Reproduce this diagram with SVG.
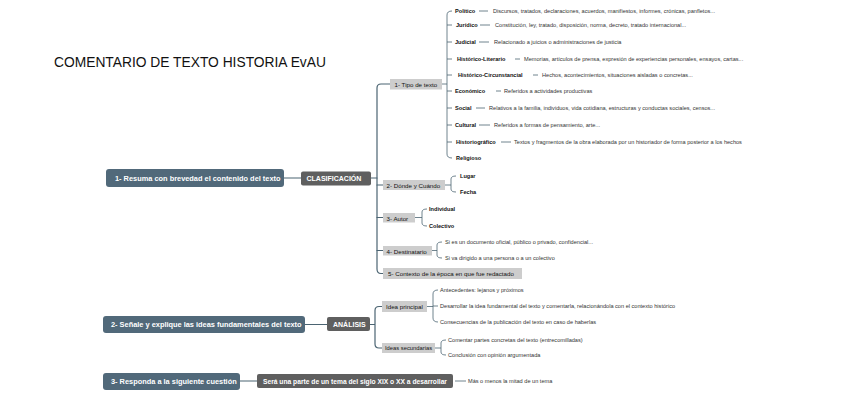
<svg xmlns="http://www.w3.org/2000/svg" width="848" height="402" viewBox="0 0 848 402">
<style>
text{font-family:"Liberation Sans",Arial,sans-serif;dominant-baseline:central}
.title{font-size:13.8px;fill:#111;dominant-baseline:auto}
.root rect{fill:#51697a}
.root text{font-size:7.4px;font-weight:bold;fill:#fff}
.l2 rect{fill:#5f5f5f}
.l2 text{font-size:7px;font-weight:bold;fill:#fff}
.l3 rect{fill:#cdcdcd}
.l3 text{font-size:6.2px;fill:#111}
.lab{font-size:5.6px;font-weight:bold;fill:#111}
.desc{font-size:5.6px;fill:#333}
.c{fill:none;stroke:#4b6472;stroke-width:1.2;stroke-linecap:round}
.t{fill:none;stroke:#4b6472;stroke-width:0.8}
</style>
<rect width="848" height="402" fill="#fff"/>
<text class="title" x="54" y="67">COMENTARIO DE TEXTO HISTORIA EvAU</text>

<g id="connectors">
<path class="c" d="M284,178H301"/>
<path class="c" d="M371,178H377"/>
<path class="c" d="M390,84H381Q377,84 377,88V269Q377,273.5 381,273.5H383"/>
<path class="c" d="M377,185H383M377,217.5H383M377,250.5H383"/>
<path class="t" d="M442,84H447M452,11Q447,11 447,15V154Q447,158 452,158M447,25H452M447,42H452M447,59H452M447,75H452M447,91H452M447,108H452M447,125H452M447,142H452"/>
<path class="t" d="M479,11H488M480,25H490M479,42H489M515,59H520M533,75H538M496,91H501M476,108H485M479,125H490M501,142H511"/>
<path class="t" d="M445,185H451M456,176Q451,176 451,179V189Q451,192 456,192"/>
<path class="t" d="M415,217.5H422M427,209Q422,209 422,212V223Q422,226 427,226"/>
<path class="t" d="M432,250.5H437M442,242Q437,242 437,245V255Q437,258 442,258"/>
<path class="c" d="M305,324.5H327"/>
<path class="c" d="M370,324.5H375M382,306.5H379Q375,306.5 375,310.5V344Q375,348 379,348H382"/>
<path class="t" d="M427,306.5H433M438,290Q433,290 433,294V318Q433,322 438,322M433,306H438"/>
<path class="t" d="M435,348H441M446,340Q441,340 441,343V352Q441,355 446,355"/>
<path class="c" d="M240,381H257"/>
<path class="t" d="M455,381H466"/>
</g>

<g id="root1" class="root"><rect x="106" y="169" width="178" height="18" rx="3"/><text x="115" y="178">1- Resuma con brevedad el contenido del texto</text></g>
<g id="clasificacion" class="l2"><rect x="301" y="171.5" width="70" height="14" rx="2"/><text x="306.5" y="178.5">CLASIFICACIÓN</text></g>

<g id="tipo" class="l3"><rect x="390" y="79" width="52" height="10.5"/><text x="394.5" y="84.3">1- Tipo de texto</text></g>
<g id="politico"><text class="lab" x="455" y="11">Político</text><text class="desc" x="493" y="11">Discursos, tratados, declaraciones, acuerdos, manifiestos, informes, crónicas, panfletos...</text></g>
<g id="juridico"><text class="lab" x="456" y="25">Jurídico</text><text class="desc" x="495" y="25">Constitución, ley, tratado, disposición, norma, decreto, tratado internacional...</text></g>
<g id="judicial"><text class="lab" x="455" y="42">Judicial</text><text class="desc" x="494" y="42">Relacionado a juicios o administraciones de justicia</text></g>
<g id="hliterario"><text class="lab" x="457" y="59">Histórico-Literario</text><text class="desc" x="524" y="59">Memorias, artículos de prensa, expresión de experiencias personales, ensayos, cartas...</text></g>
<g id="hcircunstancial"><text class="lab" x="458" y="75">Histórico-Circunstancial</text><text class="desc" x="542" y="75">Hechos, acontecimientos, situaciones aisladas o concretas...</text></g>
<g id="economico"><text class="lab" x="455" y="91">Económico</text><text class="desc" x="504" y="91">Referidos a actividades productivas</text></g>
<g id="social"><text class="lab" x="455" y="108">Social</text><text class="desc" x="489" y="108">Relativos a la familia, individuos, vida cotidiana, estructuras y conductas sociales, censos...</text></g>
<g id="cultural"><text class="lab" x="455" y="125">Cultural</text><text class="desc" x="494" y="125">Referidos a formas de pensamiento, arte...</text></g>
<g id="historiografico"><text class="lab" x="456" y="142">Historiográfico</text><text class="desc" x="514" y="142">Textos y fragmentos de la obra elaborada por un historiador de forma posterior a los hechos</text></g>
<g id="religioso"><text class="lab" x="456" y="158">Religioso</text></g>

<g id="donde" class="l3"><rect x="383" y="180" width="62" height="10"/><text x="386.5" y="185.3">2- Dónde y Cuándo</text></g>
<g id="lugar"><text class="lab" x="460" y="176">Lugar</text></g>
<g id="fecha"><text class="lab" x="460" y="192">Fecha</text></g>

<g id="autor" class="l3"><rect x="383" y="213" width="32" height="9.5"/><text x="386.5" y="218">3- Autor</text></g>
<g id="individual"><text class="lab" x="429" y="209">Individual</text></g>
<g id="colectivo"><text class="lab" x="429" y="226">Colectivo</text></g>

<g id="destinatario" class="l3"><rect x="383" y="246" width="49" height="9.5"/><text x="386.5" y="251">4- Destinatario</text></g>
<g id="dest1"><text class="desc" x="445" y="242">Si es un documento oficial, público o privado, confidencial...</text></g>
<g id="dest2"><text class="desc" x="445" y="258">Si va dirigido a una persona o a un colectivo</text></g>

<g id="contexto" class="l3"><rect x="383" y="268" width="139" height="11"/><text x="388" y="273.8">5- Contexto de la época en que fue redactado</text></g>

<g id="root2" class="root"><rect x="103" y="316" width="202" height="17" rx="3"/><text x="111" y="324.5">2- Señale y explique las ideas fundamentales del texto</text></g>
<g id="analisis" class="l2"><rect x="327" y="317" width="43" height="14" rx="2"/><text x="333" y="324">ANÁLISIS</text></g>
<g id="ideaprincipal" class="l3"><rect x="382" y="301" width="45" height="11"/><text x="386" y="306.5">Idea principal</text></g>
<g id="antecedentes"><text class="desc" x="440" y="290">Antecedentes: lejanos y próximos</text></g>
<g id="desarrollar"><text class="desc" x="440" y="306">Desarrollar la idea fundamental del texto y comentarla, relacionándola con el contexto histórico</text></g>
<g id="consecuencias"><text class="desc" x="440" y="322">Consecuencias de la publicación del texto en caso de haberlas</text></g>
<g id="ideassecundarias" class="l3"><rect x="382" y="343" width="53" height="10"/><text x="385" y="348.3" style="font-size:5.8px">Ideas secundarias</text></g>
<g id="comentar"><text class="desc" x="448" y="340">Comentar partes concretas del texto (entrecomilladas)</text></g>
<g id="conclusion"><text class="desc" x="448" y="355">Conclusión con opinión argumentada</text></g>

<g id="root3" class="root"><rect x="103" y="373" width="137" height="17" rx="3"/><text x="111" y="381.5">3- Responda a la siguiente cuestión</text></g>
<g id="sera" class="l2"><rect x="257" y="374" width="196" height="14" rx="2"/><text x="263" y="381" style="font-size:6.7px">Será una parte de un tema del siglo XIX o XX a desarrollar</text></g>
<g id="masomenos"><text class="desc" x="468" y="381">Más o menos la mitad de un tema</text></g>
</svg>
